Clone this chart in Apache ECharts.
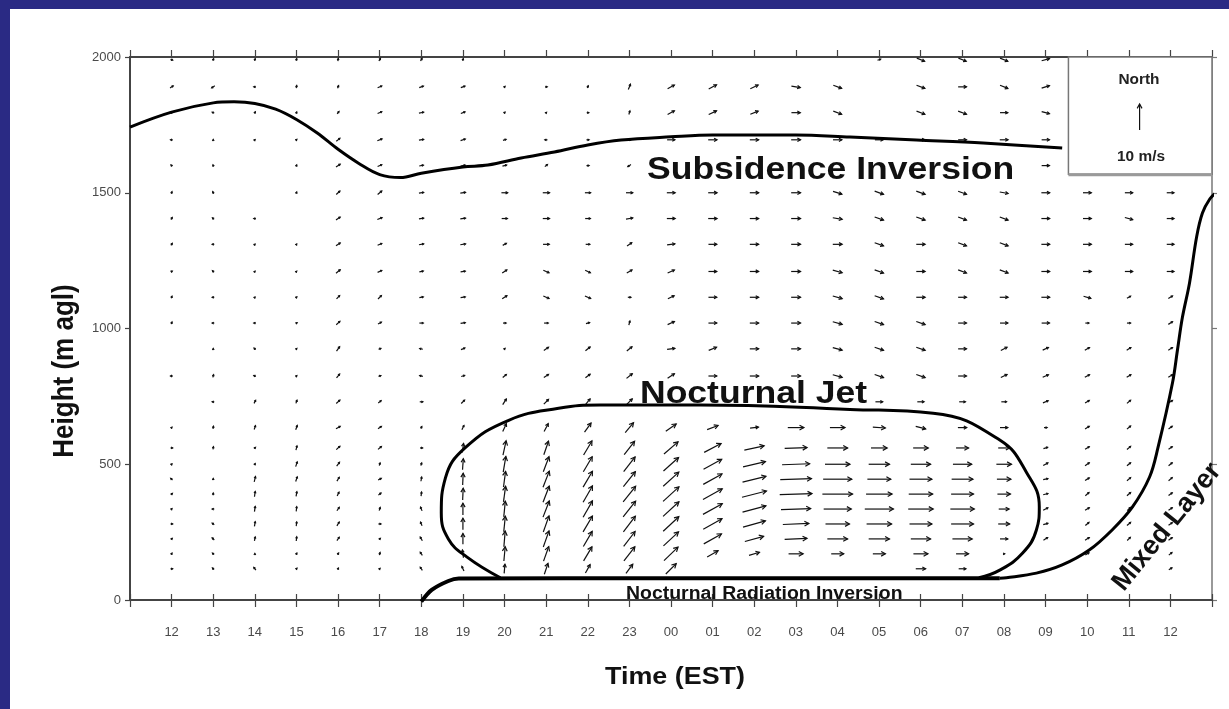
<!DOCTYPE html>
<html>
<head>
<meta charset="utf-8">
<script src="https://cdn.jsdelivr.net/npm/echarts@6/dist/echarts.min.js"></script>
<style>
  html, body { margin: 0; padding: 0; width: 1229px; height: 709px; overflow: hidden; background: #2a2a84; }
  #panel { position: absolute; left: 10px; top: 9px; width: 1219px; height: 700px; background: #ffffff; }
  #chart { position: absolute; left: 0; top: 0; width: 1229px; height: 709px; }
</style>
</head>
<body>
<div id="panel"></div>
<div id="chart"></div>
<script>
// Hour labels along the time axis (EST), noon to noon
const times = ['12','13','14','15','16','17','18','19','20','21','22','23','00','01','02','03','04','05','06','07','08','09','10','11','12'];

// Profiler range gates (m agl): low mode then high mode
const heights = [115,170,225,280,335,390,445,500,560,635,730,825,925,1020,1115,1210,1310,1405,1500,1600,1695,1795,1890,1990];

// Eastward wind component (m/s), one row per hour, one value per gate
const windU = [
  [0.8,0.3,0.5,0.8,0.3,0.6,-0.7,0.3,0.8,0.3,null,-0.8,null,0.3,0.3,0.5,0.5,0.5,0.3,-0.5,-0.8,-0.8,1.2,0.8],
  [-0.6,-0.6,-0.8,-0.8,-0.8,0,0,null,0.2,0.2,-0.8,0.3,0,-0.8,-0.8,-0.6,-0.8,-0.6,-0.4,-0.2,0,-0.8,-1.2,0.3],
  [-0.8,0,0.3,0.3,0.3,0.3,0.5,0.3,0.5,0.5,0.6,-0.8,-0.6,-0.8,0.2,0.2,0.2,-0.8,null,null,0.2,0.4,-0.8,0.3],
  [0.4,0.3,0.2,0.2,0.2,0.3,0.6,0.6,0.4,0.6,0.4,0.3,0.3,0.5,0.3,0.2,0.2,null,0.2,0.2,0.3,0.2,0.2,0.2],
  [0.3,0.4,0.9,0.9,0.9,0.7,0.9,1.1,1.4,1.6,1.4,1.2,1.2,1.4,1.2,1.6,1.6,1.6,1.4,1.6,1.4,0.7,0.4,0.2],
  [0.3,0.3,0.5,1,0.4,1,1.2,0.3,1.3,1.3,1.1,0.9,0.9,1.3,1.3,1.6,1.6,1.8,1.6,1.6,1.8,1.6,1.6,0.6],
  [-0.8,-0.8,-0.8,-0.6,-0.6,0.2,0.3,0.3,1,0.4,1.2,-1.2,-1.2,1.5,1.5,1.5,1.8,1.8,1.8,1.6,1.8,1.8,1.6,0.6],
  [-0.8,-0.4,0,0,0,0.2,0.2,0.3,0.5,0.8,1.3,1.3,1.5,1.8,1.8,1.8,2,2,2,1.8,1.8,1.6,1.6,0.3],
  [0.3,0.5,0.5,0.6,0.6,0.8,0.8,1,1.2,1.4,1.4,1.4,0.4,1.2,1.8,1.8,1.4,2.2,2.4,1.6,1.2,0.4,0.4,null],
  [1.4,2,2.2,2.2,2.4,2.4,2.4,2.2,1.8,1.6,1.8,1.8,1.8,1.6,2.2,2.2,2.4,2.6,2.6,1,-1,0.3,0.8,null],
  [1.8,3.2,3.4,3.6,3.6,3.6,3.6,3.4,3.2,2.5,1.8,1.8,1.8,1.4,2.2,2,1.6,2,2.2,1,1,0.8,0.4,null],
  [2.6,4.2,4.4,4.6,4.8,4.8,4.6,4.4,4,3.2,2.2,2.2,2,0.4,1.2,2,1.8,2.6,2.6,-1.2,1.2,0.4,0.8,null],
  [4,5.4,5.8,6,6.1,6.1,6,5.8,5.4,4,null,2.6,3,2.6,2.4,2.6,3,3.2,3.2,null,3,2.6,2.6,null],
  [null,4.2,6.8,7.2,7.4,7.4,7.2,7,6.5,4.2,null,3.2,3,3.2,3.2,3.2,3.2,3.4,3.4,null,3.4,3,3,null],
  [null,4,7.2,8.6,9,9.4,9,8.6,7.6,3.2,null,3.4,3.4,3.4,3.4,3.4,3.4,3.4,3.4,null,3.4,3,3,null],
  [null,5.6,8.6,10,11.4,12.4,12,10.6,8.6,6.2,null,3.6,3.6,3.6,3.6,3.6,3.6,3.6,3.6,null,3.6,3.4,3.4,null],
  [null,4.8,7.8,9.2,10.6,11.6,11,9.6,7.8,5.8,null,3.6,3.6,3.6,3.6,3.6,3.6,3.6,3.4,null,3.4,3.2,3.2,null],
  [null,4.8,8,9.6,11,10,9,8,6.2,4.8,2.8,3.4,3.4,3.4,3.4,3.4,3.4,3.4,3.4,null,3.2,null,null,1.2],
  [3.8,5.6,7.6,8.6,9.6,9.2,8.6,7.6,5.8,3.8,2.6,3.4,3.4,3.4,3.4,3.4,3.4,3.4,3.4,null,3.2,3.2,3.2,3],
  [2.8,4.8,7.6,8.6,9.2,8.6,8.2,7.2,4.8,3.4,2.4,3.2,3.2,3.2,3.2,3.2,3.2,3.2,3.2,null,3.2,3.2,3.2,3],
  [null,0.6,3,4.4,4,5,5.4,5.8,4.4,3,2,2.4,2.4,3,3.2,3.2,3.2,3.2,3.2,null,3.2,3,3,3],
  [null,null,1.6,1.8,1.8,1.8,1.8,1.8,1.6,1.2,2,2.2,2.2,3,3.2,3.2,3.2,3.2,3.2,3,3,3,3,3],
  [null,1.4,1.6,1.4,1.6,1.4,1.6,1.6,1.6,1.6,1.6,1.8,1.8,1.4,2.8,3.2,3.2,3.2,3.2,null,null,null,null,null],
  [null,null,1.2,1.4,1.2,1.4,1.4,1.4,1.4,1.4,1.4,1.6,1.6,1.4,1.4,3,3,3,3,null,null,null,null,null],
  [1.2,1.2,1.4,1.4,1.4,1.4,1.4,1.4,1.4,1.4,1.6,1.6,1.6,1.6,1.6,2.8,2.8,2.8,2.8,null,null,null,null,null]
];

// Northward wind component (m/s), same layout as windU
const windV = [
  [0,0.5,0.5,0,0.3,0.6,0.6,0.3,0,0.3,null,0,null,0.8,0.8,0.3,0.8,0.8,0.8,0.5,0,0.3,0.8,-0.3],
  [0.6,0.6,0.8,0.6,0,0.8,0.6,null,1,1,0,1,0.3,0,0,0.6,0,0.6,0.8,0.6,0.3,0.3,-0.8,0.8],
  [1,0.3,1.5,1.8,2,2,2,0.5,0.5,1.5,1.2,0.4,0.6,0,0.2,0.2,0.2,0,null,null,0.2,0.6,0,0.8],
  [0.4,0.6,1.6,1.6,1.8,1.8,1.8,1.8,1.6,1.6,1.2,0.3,0.3,0.3,0.3,0.2,0.3,null,0.6,0.6,0.3,0.6,1,0.8],
  [0.6,0.6,1.3,1.5,1.3,1.5,1.5,1.5,1.3,0.9,1.3,1.5,1.7,1.3,1.3,1.3,1.1,1.1,1.3,1.1,1.1,0.9,1,1],
  [0.3,1,0.5,0,1.2,0.8,0.6,1,1.1,0.9,0.9,0.3,0.3,0.7,1.3,0.7,0.7,0.7,1.3,0.7,0.7,0.7,0.7,1],
  [1.2,1.2,1.4,1.4,1.4,1.6,1.6,1,0,0.8,0,0.3,0.3,0,0.3,0.3,0.3,0.3,0.3,0.3,0.3,0.3,0.6,1],
  [1.8,3,4.2,4.5,4.5,4.5,4.5,4.2,3.5,1.6,1.3,0.4,0.6,0.3,0.3,0.3,0.3,0.3,0.3,0.3,0.6,0.6,0.6,0.8],
  [3.5,5.5,6,6,6,6,6,6,5.5,3,2.2,1.2,0.4,0,1.2,1.2,0.8,0,0,0.4,0.4,0.4,0.4,null],
  [4.2,5.6,6.2,6.2,6.2,6.2,6.2,5.8,5.2,3,1.8,1.2,1.2,0,-1,-1,0,0,0,0.8,0,0.3,0,null],
  [3.2,5.4,5.8,6.1,6.3,6.3,6.1,5.8,5.4,3.5,2.2,1.4,1.4,0.4,-1,-1,0,0,0,0,0,0,0.8,null],
  [3.5,5.4,5.7,6,6,6,5.8,5.6,5.1,3.8,2.2,1.8,1.6,1.6,0,1.2,1.2,0.4,0,-0.8,0,1.4,2,null],
  [4,5.2,5.4,5.6,5.6,5.6,5.4,5.2,4.7,2.8,null,1.8,0.4,1.2,1.2,1.2,0.4,0,0,null,0,1.4,1.4,null],
  [null,2.4,3.8,4.1,4.1,4.1,4,3.8,3.4,1.6,null,0,1.2,0,0,0,0,0,0,null,0,1.4,1.6,null],
  [null,1.2,2,2.4,2.4,2.4,2.2,2,1.6,0.4,null,0,0,0,0,0,0,0,0,null,0,1.2,1.4,null],
  [null,0,0.4,0.4,0.4,0.4,0.4,0.4,0.3,0,null,0,0,0,0,0,0,0,0,null,0,0,-0.6,null],
  [null,0,0,0,0,0,0,0,0,0,null,-1,-1,-1,-1,-1,0,-0.6,-1,null,0,-1.2,-1.2,null],
  [null,0,0,0,0,0,0,0,0,-0.3,0,-1.2,-1.2,-1.2,-1.2,-1.2,-1.2,-1.2,-1.2,null,0,null,null,0.4],
  [0,0,0,0,0,0,0,0,0,-1,0,-1.2,-1.2,-1.2,0,0,0,-1.2,-1.2,null,0,-1.2,-1.2,-1.2],
  [0,0,0,0,0,0,0,0,0,0,0,0,0,0,0,-1.2,-1.2,-1.2,-1.2,null,0,-1.2,0,-1.2],
  [null,0,0,0,0,0,0,0,0,0,0,1.2,1.2,0,0,-1.2,-1.2,-1.2,-0.6,null,0,0,-1.2,-1.2],
  [null,null,1,0.5,1,0.5,0.4,1,0.5,0,0.8,1,1,0,0,0,0,0,0,0,0,-0.8,1,0.8],
  [null,0.8,1,1.2,1,1.2,1,1.2,1,1,1,1,1,0,-0.8,0,0,0,0,null,null,null,null,null],
  [null,null,1.2,1.2,1.2,1.2,1.2,1.2,1.2,1.2,1.2,1,1,0,0.8,0,0,-0.8,0,null,null,null,null,null],
  [0.7,1,1,1,1,1,1.2,1.2,1,1,1,1,1,1,1,0,0,0,0,null,null,null,null,null]
];

// Top of the boundary layer (subsidence inversion): [hour index, height m]
const subsidenceInversion = [
  [-1,1742],[0,1797],[1,1831],[1.5,1835],[2,1829],[2.5,1808],[3,1770],[3.5,1720],[4,1660],
  [4.5,1608],[5,1567],[5.5,1556],[6,1572],[7,1595],[7.6,1602],[8.4,1628],[9.2,1650],
  [10,1676],[10.8,1694],[12,1706],[13,1713],[15,1713],[16.3,1705],[17.9,1694],[19.5,1683],[21.4,1665]
];

// Outline of the nocturnal low-level jet core
const jetOutline = [
  [7.9,82],[7.1,158],[6.65,225],[6.48,320],[6.58,450],[7.05,560],[8.1,662],[9.3,706],
  [10.3,718],[12.7,718],[16.3,702],[18.3,688],[19.9,589],[20.55,468],[20.85,343],
  [20.78,258],[20.45,173],[19.9,110],[19.4,82]
];

// Top of the nocturnal radiation inversion
const radiationInversion = [[6,-6],[6.25,37],[6.65,70],[6.9,79],[12,80],[19.9,80]];

// Growth of the daytime mixed layer
const mixedLayer = [
  [19.9,80],[20.06,82],[20.78,99],[21.4,129],[22.05,184],[22.6,258],[23.09,343],[23.5,453],
  [23.7,560],[24.05,799],[24.17,921],[24.29,1042],[24.46,1168],[24.63,1337],[24.77,1425],
  [24.95,1478],[25.1,1500]
];

// Reference vector drawn in the key box: [hour index, height, u, v]
const keyVector = [[23.26, 1779, 0, 10]];

const FONT = '"Liberation Sans", Arial, Helvetica, sans-serif';
const PX_PER_MS = 2.6;   // arrow length scale
const INK = '#111';

const arrows = [];
times.forEach((t, i) => {
  heights.forEach((h, j) => {
    const u = windU[i][j], v = windV[i][j];
    if (u !== null && v !== null) arrows.push([i, h, u, v]);
  });
});

function renderArrow(params, api) {
  const c = api.coord([api.value(0), api.value(1)]);
  const dx = api.value(2) * PX_PER_MS;
  const dy = -api.value(3) * PX_PER_MS;
  const len = Math.hypot(dx, dy);
  if (len < 0.01) return null;
  const ux = dx / len, uy = dy / len;
  const sx = c[0] - dx / 2, sy = c[1] - dy / 2;
  const ex = c[0] + dx / 2, ey = c[1] + dy / 2;
  const hl = Math.max(1.8, Math.min(5, len * 0.38));
  const a = 0.5;
  const cs = Math.cos(a), sn = Math.sin(a);
  const h1 = [ex - hl * (ux * cs - uy * sn), ey - hl * (uy * cs + ux * sn)];
  const h2 = [ex - hl * (ux * cs + uy * sn), ey - hl * (uy * cs - ux * sn)];
  return {
    type: 'group',
    children: [
      { type: 'polyline', shape: { points: [[sx, sy], [ex, ey]] }, style: { stroke: INK, lineWidth: 1.2, fill: null } },
      { type: 'polyline', shape: { points: [h1, [ex, ey], h2] }, style: { stroke: INK, lineWidth: 1.2, fill: null } }
    ]
  };
}

function curve(name, data, width, smooth) {
  return {
    name, type: 'line', data, symbol: 'none', smooth, clip: false, z: 5,
    lineStyle: { color: '#000', width }, silent: true, animation: false
  };
}

const axisGrey = '#444';
const chart = echarts.init(document.getElementById('chart'), null, { renderer: 'canvas' });

chart.setOption({
  animation: false,
  textStyle: { fontFamily: FONT },
  grid: { left: 130, right: 17, top: 57, bottom: 109, containLabel: false },
  xAxis: [
    {
      type: 'value', position: 'bottom', min: -1, max: 25, interval: 1,
      axisLine: { show: true, onZero: false, lineStyle: { color: axisGrey, width: 2 } },
      axisTick: { show: true, inside: false, length: 7, lineStyle: { color: axisGrey, width: 1.2 } },
      axisLabel: {
        margin: 26, fontSize: 13, color: '#4a4a4a',
        formatter: (v) => { const k = Math.round(v); return (k >= 0 && k < times.length) ? times[k] : ''; }
      },
      splitLine: { show: false }
    },
    {
      type: 'value', position: 'bottom', min: -1, max: 25, interval: 1,
      axisLine: { show: false, onZero: false },
      axisTick: { show: true, inside: true, length: 6, lineStyle: { color: axisGrey, width: 1.2 } },
      axisLabel: { show: false }, splitLine: { show: false }
    },
    {
      type: 'value', position: 'top', min: -1, max: 25, interval: 1,
      axisLine: { show: true, onZero: false, lineStyle: { color: axisGrey, width: 2 } },
      axisTick: { show: true, inside: false, length: 7, lineStyle: { color: axisGrey, width: 1.2 } },
      axisLabel: { show: false }, splitLine: { show: false }
    }
  ],
  yAxis: [
    {
      type: 'value', position: 'left', min: 0, max: 2000, interval: 500,
      axisLine: { show: true, onZero: false, lineStyle: { color: axisGrey, width: 2 } },
      axisTick: { show: true, inside: false, length: 5, lineStyle: { color: axisGrey, width: 1.2 } },
      axisLabel: { margin: 9, fontSize: 13, color: '#4a4a4a', formatter: (v) => String(v) },
      splitLine: { show: false }
    },
    {
      type: 'value', position: 'right', min: 0, max: 2000, interval: 500,
      axisLine: { show: true, onZero: false, lineStyle: { color: '#777', width: 1.5 } },
      axisTick: { show: true, inside: false, length: 5, lineStyle: { color: '#777', width: 1.2 } },
      axisLabel: { show: false }, splitLine: { show: false }
    }
  ],
  series: [
    {
      name: 'wind', type: 'custom', data: arrows, renderItem: renderArrow,
      encode: { x: 0, y: 1 }, clip: false, z: 3, silent: true
    },
    {
      name: 'key', type: 'custom', data: keyVector, renderItem: renderArrow,
      encode: { x: 0, y: 1 }, clip: false, z: 8, silent: true
    },
    curve('Subsidence Inversion', subsidenceInversion, 3, 0.35),
    curve('Nocturnal Jet', jetOutline, 3, 0.45),
    curve('Nocturnal Radiation Inversion', radiationInversion, 4, 0.3),
    curve('Mixed Layer', mixedLayer, 3, 0.35)
  ]
});

// Key box in the upper-right corner of the plot
const boxLL = chart.convertToPixel({ xAxisIndex: 0, yAxisIndex: 0 }, [21.55, 1568]);
const boxUR = chart.convertToPixel({ xAxisIndex: 0, yAxisIndex: 0 }, [25, 2000]);

const label = (text, x, y, size, extra) => Object.assign({
  type: 'text', x, y, z: 20,
  style: { text, font: 'bold ' + size + 'px ' + FONT, fill: '#111', textAlign: 'left', textVerticalAlign: 'middle' }
}, extra || {});

chart.setOption({
  graphic: [
    {
      type: 'rect', z: 6,
      shape: { x: boxLL[0], y: boxUR[1], width: boxUR[0] - boxLL[0], height: boxLL[1] - boxUR[1] },
      style: { fill: '#fff', stroke: '#777', lineWidth: 1.5 }
    },
    {
      type: 'line', z: 7,
      shape: { x1: boxLL[0], y1: boxLL[1] + 0.5, x2: boxUR[0], y2: boxLL[1] + 0.5 },
      style: { stroke: '#9a9a9a', lineWidth: 3 }
    },
    label('North', 1139, 80, 14, { scaleX: 1.1, style: { text: 'North', font: 'bold 14px ' + FONT, fill: '#222', textAlign: 'center', textVerticalAlign: 'middle' } }),
    label('10 m/s', 1141, 157, 14, { scaleX: 1.1, style: { text: '10 m/s', font: 'bold 14px ' + FONT, fill: '#222', textAlign: 'center', textVerticalAlign: 'middle' } }),
    label('Subsidence Inversion', 647, 170, 32, { scaleX: 1.11 }),
    label('Nocturnal Jet', 640, 394, 32, { scaleX: 1.11 }),
    label('Nocturnal Radiation Inversion', 626, 594, 18, { scaleX: 1.08 }),
    label('Mixed Layer', 1167, 527, 27, {
      rotation: 51 * Math.PI / 180,
      style: { text: 'Mixed Layer', font: 'bold 27px ' + FONT, fill: '#111', textAlign: 'center', textVerticalAlign: 'middle' }
    }),
    label('Time (EST)', 675, 677, 24, {
      scaleX: 1.12,
      style: { text: 'Time (EST)', font: 'bold 24px ' + FONT, fill: '#111', textAlign: 'center', textVerticalAlign: 'middle' }
    }),
    label('Height (m agl)', 65, 371, 26, {
      rotation: Math.PI / 2, scaleY: 1.1,
      style: { text: 'Height (m agl)', font: 'bold 26px ' + FONT, fill: '#111', textAlign: 'center', textVerticalAlign: 'middle' }
    })
  ]
});
</script>
</body>
</html>
